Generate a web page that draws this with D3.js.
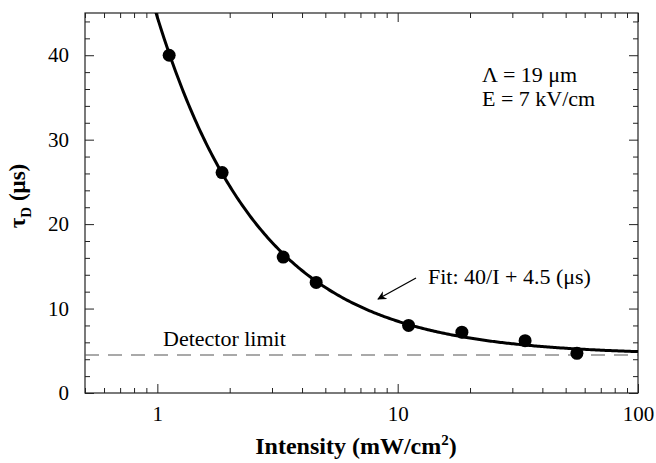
<!DOCTYPE html>
<html>
<head>
<meta charset="utf-8">
<script src="https://cdn.jsdelivr.net/npm/d3@7"></script>
<style>
  body { margin: 0; background: #fff; }
  text { font-family: "Liberation Serif", "DejaVu Serif", serif; fill: #000; }
</style>
</head>
<body>
<script>
// measured points: intensity (mW/cm^2) and decay time (us)
var intensity = [1.12, 1.86, 3.34, 4.58, 11.1, 18.5, 33.9, 55.7];
var tau = [40.0, 26.1, 16.1, 13.1, 8.0, 7.2, 6.2, 4.7];

// fit tau = A/I + B, detector limit
var fitA = 40, fitB = 4.5;
var detectorLimit = 4.5;

var xTickLabels = [1, 10, 100];
var yTickLabels = [0, 10, 20, 30, 40];

var width = 656, height = 463;
var pLeft = 85, pRight = 638, pTop = 13, pBottom = 393;

var svg = d3.select("body").append("svg")
  .attr("width", width).attr("height", height);

var x = d3.scaleLog().domain([0.5, 100]).range([pLeft, pRight]);
var y = d3.scaleLinear().domain([0, 45]).range([pBottom, pTop]);

// minor tick values
var xMinor = [];
[0.1, 1, 10].forEach(function (d) {
  for (var k = 2; k <= 9; k++) {
    var v = +(d * k).toFixed(3);
    if (v >= 0.5 && v <= 100) xMinor.push(v);
  }
});
var yMinor = d3.range(0, 46, 2).filter(function (v) { return v % 10 !== 0; });

var frame = svg.append("g");

// bottom / top axes (inward ticks)
var xb = svg.append("g").attr("transform", "translate(0," + pBottom + ")");
xb.call(d3.axisBottom(x).tickValues(xTickLabels).tickSize(-9).tickPadding(24).tickFormat(d3.format("d")));
xb.append("g").call(d3.axisBottom(x).tickValues(xMinor).tickSize(-5).tickFormat(""));
var xt = svg.append("g").attr("transform", "translate(0," + pTop + ")");
xt.call(d3.axisTop(x).tickValues(xTickLabels).tickSize(-9).tickFormat(""));
xt.append("g").call(d3.axisTop(x).tickValues(xMinor).tickSize(-5).tickFormat(""));

var yl = svg.append("g").attr("transform", "translate(" + pLeft + ",0)");
yl.call(d3.axisLeft(y).tickValues(yTickLabels).tickSize(-9).tickPadding(16));
yl.append("g").call(d3.axisLeft(y).tickValues(yMinor).tickSize(-5).tickFormat(""));
var yr = svg.append("g").attr("transform", "translate(" + pRight + ",0)");
yr.call(d3.axisRight(y).tickValues(yTickLabels).tickSize(-9).tickFormat(""));
yr.append("g").call(d3.axisRight(y).tickValues(yMinor).tickSize(-5).tickFormat(""));

svg.selectAll(".domain").remove();
svg.selectAll(".tick line").attr("stroke", "#222").attr("stroke-width", 1);
svg.selectAll(".tick text").style("font-size", "21px").attr("fill", "#000");
xb.selectAll(".tick text").attr("dy", "0.2em");

frame.append("rect")
  .attr("x", pLeft).attr("y", pTop)
  .attr("width", pRight - pLeft).attr("height", pBottom - pTop)
  .attr("fill", "none").attr("stroke", "#222").attr("stroke-width", 1.2);

// detector limit
svg.append("line")
  .attr("x1", pLeft).attr("x2", pRight)
  .attr("y1", y(detectorLimit)).attr("y2", y(detectorLimit))
  .attr("stroke", "#555").attr("stroke-width", 1.2)
  .attr("stroke-dasharray", "14,9");

svg.append("text").attr("x", 163).attr("y", 346)
  .style("font-size", "22px").text("Detector limit");

// fit curve
svg.append("clipPath").attr("id", "clip").append("rect")
  .attr("x", pLeft).attr("y", pTop).attr("width", pRight - pLeft).attr("height", pBottom - pTop);

var iMin = fitA / (45 - fitB) * 0.97;
var curve = d3.range(0, 301).map(function (i) {
  var I = iMin * Math.pow(100 / iMin, i / 300);
  return [I, fitA / I + fitB];
});
svg.append("path").datum(curve)
  .attr("clip-path", "url(#clip)")
  .attr("d", d3.line().x(function (d) { return x(d[0]); }).y(function (d) { return y(d[1]); }))
  .attr("fill", "none").attr("stroke", "#000").attr("stroke-width", 3);

svg.selectAll("circle.pt").data(intensity).enter().append("circle")
  .attr("class", "pt")
  .attr("cx", function (d) { return x(d); })
  .attr("cy", function (d, i) { return y(tau[i]); })
  .attr("r", 6.5).attr("fill", "#000");

// fit annotation with arrow
svg.append("defs").append("marker")
  .attr("id", "arr").attr("viewBox", "0 0 10 10")
  .attr("refX", 9).attr("refY", 5)
  .attr("markerWidth", 9).attr("markerHeight", 9)
  .attr("markerUnits", "userSpaceOnUse")
  .attr("orient", "auto")
  .append("path").attr("d", "M0,0 L10,5 L0,10 L3,5 Z").attr("fill", "#000");
svg.append("line")
  .attr("x1", 416).attr("y1", 278).attr("x2", 378).attr("y2", 299)
  .attr("stroke", "#000").attr("stroke-width", 1.3)
  .attr("marker-end", "url(#arr)");
svg.append("text").attr("x", 428).attr("y", 284)
  .style("font-size", "22px").text("Fit: 40/I + 4.5 (\u03bcs)");

svg.append("text").attr("x", 482).attr("y", 82)
  .style("font-size", "22px").text("\u039b = 19 \u03bcm");
svg.append("text").attr("x", 482).attr("y", 106)
  .style("font-size", "22px").text("E = 7 kV/cm");

// axis titles
var xl = svg.append("text").attr("x", 356).attr("y", 454)
  .attr("text-anchor", "middle")
  .style("font-size", "24px").style("font-weight", "bold");
xl.append("tspan").text("Intensity (mW/cm");
xl.append("tspan").attr("dy", -9).style("font-size", "15px").text("2");
xl.append("tspan").attr("dy", 9).text(")");

var ylab = svg.append("text")
  .attr("transform", "translate(25,196) rotate(-90)")
  .attr("text-anchor", "middle")
  .style("font-size", "23px").style("font-weight", "bold");
ylab.append("tspan").text("\u03c4");
ylab.append("tspan").attr("dy", 6).style("font-size", "15px").text("D");
ylab.append("tspan").attr("dy", -6).text(" (\u03bcs)");
</script>
</body>
</html>
